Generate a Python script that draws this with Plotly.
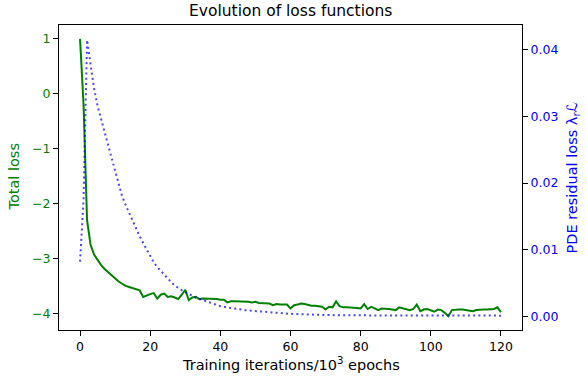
import plotly.graph_objects as go

epochs = list(range(0, 121))

total_loss = [
    1.0, -0.2, -2.3, -2.75, -2.93, -3.03, -3.12, -3.19, -3.25, -3.31,
    -3.37, -3.42, -3.46, -3.50, -3.52, -3.54, -3.56, -3.58, -3.70, -3.67,
    -3.65, -3.63, -3.73, -3.66, -3.64, -3.70, -3.69, -3.71, -3.74, -3.66,
    -3.57, -3.76, -3.71, -3.70, -3.74, -3.73, -3.73, -3.73, -3.74, -3.74,
    -3.75, -3.75, -3.80, -3.78, -3.78, -3.78, -3.79, -3.79, -3.79, -3.80,
    -3.79, -3.81, -3.81, -3.82, -3.82, -3.85, -3.83, -3.84, -3.84, -3.84,
    -3.91, -3.85, -3.84, -3.82, -3.83, -3.85, -3.86, -3.86, -3.87, -3.88,
    -3.93, -3.88, -3.89, -3.78, -3.87, -3.89, -3.89, -3.89, -3.89, -3.90,
    -3.91, -3.83, -3.92, -3.88, -3.91, -3.94, -3.91, -3.91, -3.92, -3.93,
    -3.94, -3.89, -3.91, -3.92, -3.94, -3.92, -3.84, -3.96, -3.93, -3.92,
    -3.94, -3.97, -3.93, -3.94, -3.99, -4.05, -3.94, -3.93, -3.93, -3.93,
    -3.94, -3.95, -3.96, -3.94, -3.93, -3.93, -3.93, -3.93, -3.92, -3.89,
    -3.98,
]

pde_loss = [
    0.0082, 0.0175, 0.0415, 0.0375, 0.0342, 0.0316, 0.0295, 0.0276, 0.0257, 0.0238,
    0.0220, 0.0200, 0.0180, 0.0167, 0.0155, 0.0144, 0.0132, 0.0120, 0.0110, 0.0100,
    0.0090, 0.0081, 0.0074, 0.0068, 0.0062, 0.0056, 0.0051, 0.0046, 0.0042, 0.0039,
    0.0036, 0.0033, 0.0030, 0.0028, 0.0026, 0.0024, 0.0022, 0.0020, 0.0018, 0.0017,
    0.0015, 0.0014, 0.0013, 0.0012, 0.0011, 0.0010, 0.00095, 0.0009, 0.00085, 0.0008,
    0.00075, 0.0007, 0.00065, 0.0006, 0.00055, 0.0005, 0.00047, 0.00044, 0.0004, 0.00037,
    0.00035, 0.00033, 0.0003, 0.00028, 0.00026, 0.00024, 0.00022, 0.0002, 0.00019, 0.00018,
    0.00017, 0.00016, 0.00015, 0.00014, 0.00013, 0.00013, 0.00012, 0.00012, 0.00011, 0.00011,
    0.0001, 0.0001, 0.0001, 0.0001, 0.0001, 0.0001, 0.0001, 0.0001, 0.0001, 0.0001,
    0.0001, 0.0001, 0.0001, 0.0001, 0.0001, 0.00009, 0.00009, 0.00009, 0.00009, 0.00009,
    0.00009, 0.00009, 0.00009, 0.00009, 0.00009, 0.00009, 0.00009, 0.00009, 0.00009, 0.00009,
    0.00008, 0.00008, 0.00008, 0.00008, 0.00008, 0.00008, 0.00008, 0.00008, 0.00008, 0.00008,
    0.00008,
]

x_ticks = [0, 20, 40, 60, 80, 100, 120]
y1_ticks = [1, 0, -1, -2, -3, -4]
y2_ticks = [0.0, 0.01, 0.02, 0.03, 0.04]

FONT = "DejaVu Sans"
GREEN = "#008000"
BLUE = "#0000ff"

W, H = 587, 383
ML, MR, MT, MB = 59, 65, 25, 53
PH = H - MT - MB
PW = W - ML - MR

fig = go.Figure()
fig.add_trace(go.Scatter(x=epochs, y=total_loss, mode="lines",
                         line=dict(color=GREEN, width=2), yaxis="y",
                         showlegend=False, hoverinfo="skip"))
fig.add_trace(go.Scatter(x=epochs, y=pde_loss, mode="lines",
                         line=dict(color="rgba(0,0,255,0.72)", width=2, dash="2px,3.2px"),
                         yaxis="y2", showlegend=False, hoverinfo="skip"))

axis_common = dict(showgrid=False, zeroline=False, showline=True, linecolor="black",
                   linewidth=1, ticks="outside", ticklen=5, tickcolor="black",
                   automargin=False)

fig.update_layout(
    width=W, height=H,
    margin=dict(l=ML, r=MR, t=MT, b=MB),
    paper_bgcolor="white", plot_bgcolor="white",
    font=dict(family=FONT, size=12.5, color="black"),
    xaxis=dict(range=[-6, 126], tickvals=x_ticks, ticktext=[str(t) for t in x_ticks],
               mirror=True, **axis_common),
    yaxis=dict(range=[-4.3025, 1.2525], tickvals=y1_ticks,
               ticktext=["1", "0", "\u22121", "\u22122", "\u22123", "\u22124"],
               tickfont=dict(color=GREEN), **axis_common),
    yaxis2=dict(range=[-0.00208, 0.04375], tickvals=y2_ticks,
                ticktext=["0.00", "0.01", "0.02", "0.03", "0.04"],
                overlaying="y", side="right",
                tickfont=dict(color=BLUE), **axis_common),
    annotations=[
        dict(text="Evolution of loss functions", xref="paper", yref="paper",
             x=0.5, y=1 + (MT - 11) / PH, xanchor="center", yanchor="middle",
             showarrow=False, font=dict(size=15.5, color="black")),
        dict(text="Training iterations/10<sup>3</sup> epochs", xref="paper", yref="paper",
             x=0.5, y=-(364 - (H - MB)) / PH, xanchor="center", yanchor="middle",
             showarrow=False, font=dict(size=14.5, color="black")),
        dict(text="Total loss", xref="paper", yref="paper",
             x=-(ML - 13) / PW, y=0.5, xanchor="center", yanchor="middle",
             textangle=-90, showarrow=False, font=dict(size=14.5, color=GREEN)),
        dict(text="PDE residual loss \u03bb<sub>r</sub>\u2112", xref="paper", yref="paper",
             x=1 + (572 - (W - MR)) / PW, y=0.5, xanchor="center", yanchor="middle",
             textangle=-90, showarrow=False, font=dict(size=14.5, color=BLUE)),
    ],
)

fig.write_html("out.html",
               config={"displayModeBar": False},
               post_script="document.body.style.margin='0';document.body.style.padding='0';")
